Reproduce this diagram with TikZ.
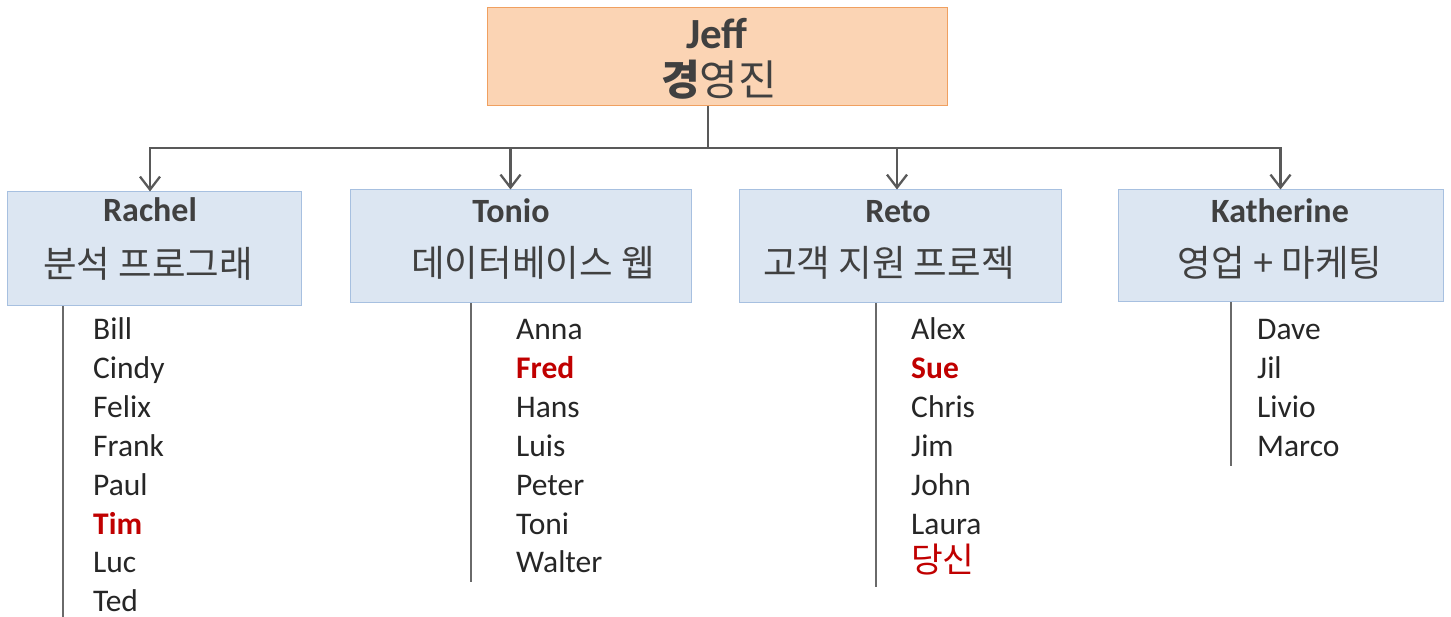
\documentclass[tikz,border=0pt]{standalone}
\usepackage{fontspec}
\setmainfont{Carlito}
\newfontfamily\kr{Noto Sans CJK KR}
\usetikzlibrary{arrows.meta}
\definecolor{peach}{HTML}{FBD4B4}
\definecolor{peachline}{HTML}{F0A060}
\definecolor{paleblue}{HTML}{DCE6F2}
\definecolor{blueline}{HTML}{A7C0E0}
\definecolor{linkgray}{HTML}{595959}
\definecolor{titlegray}{HTML}{404040}
\definecolor{namegray}{HTML}{262626}
\definecolor{hotred}{HTML}{C00000}
\tikzset{
  boss/.style={draw=peachline, fill=peach, line width=1pt, inner sep=0pt},
  mgr/.style={draw=blueline, fill=paleblue, line width=1pt, inner sep=0pt},
  mgrtitle/.style={anchor=base, inner sep=0pt, text=titlegray, font=\fontsize{34}{40}\selectfont\bfseries},
  mgrsub/.style={anchor=base, inner sep=0pt, text=titlegray, font=\kr\fontsize{36.5}{42}\selectfont},
  member/.style={anchor=base west, inner sep=0pt, text=namegray, font=\fontsize{31.5}{38}\selectfont},
  redname/.style={member, text=hotred, font=\fontsize{31.5}{38}\selectfont\bfseries},
  redkr/.style={member, text=hotred, font=\kr\fontsize{34.5}{40}\selectfont},
  link/.style={draw=linkgray, line width=2.3pt},
  lane/.style={draw=linkgray!90, line width=2pt}
}
\begin{document}
\begin{tikzpicture}[x=1pt, y=-1pt, >={Straight Barb[length=13pt,width=20pt]}]
  \useasboundingbox (0,0) rectangle (1451,617);

%Boxes
  \node[boss, minimum width=460, minimum height=98] (jeff) at (717,57) {};
  \node[mgr, minimum width=294, minimum height=114] (rachel) at (154,249) {};
  \node[mgr, minimum width=341, minimum height=113] (tonio) at (520.5,246.5) {};
  \node[mgr, minimum width=322, minimum height=113] (reto) at (900,246.5) {};
  \node[mgr, minimum width=325, minimum height=112] (kath) at (1280.5,246) {};

%Titles
  \node[anchor=base, inner sep=0pt, text=titlegray, font=\fontsize{43}{48}\selectfont\bfseries] (jeffname) at (717,49) {Jeff};
  \node[anchor=base, inner sep=0pt, text=titlegray, font=\kr\fontsize{42}{48}\selectfont] (jeffsub) at (719,96) {{\bfseries 경}영진};
  \node[mgrtitle] (rachelname) at (150,222) {Rachel};
  \node[mgrsub] (rachelsub) at (148,278) {분석 프로그래};
  \node[mgrtitle] (tonioname) at (511,223) {Tonio};
  \node[mgrsub] (toniosub) at (533,277) {데이터베이스 웹};
  \node[mgrtitle] (retoname) at (898,223) {Reto};
  \node[mgrsub] (retosub) at (889,277) {고객 지원 프로젝};
  \node[mgrtitle] (kathname) at (1280,223) {Katherine};
  \node[mgrsub] (kathsub) at (1280,277) {영업 + 마케팅};

%Connectors
  \coordinate (hub) at (708,148);
  \draw[link] (jeff.south -| hub) -- (hub);
  \draw[link,->] (hub) -| ([xshift=-4pt]rachel.north);
  \draw[link,->] (hub) -| ([xshift=-10pt]tonio.north);
  \draw[link,->] (hub) -| ([xshift=-3pt]reto.north);
  \draw[link,->] (hub) -| (kath.north);

%Lanes
  \coordinate (rend) at (63,617);
  \coordinate (tend) at (471,582);
  \coordinate (eend) at (876,587);
  \coordinate (kend) at (1231,466);
  \draw[lane] (rachel.south -| rend) -- (rend);
  \draw[lane] (tonio.south -| tend) -- (tend);
  \draw[lane] (reto.south -| eend) -- (eend);
  \draw[lane] (kath.south -| kend) -- (kend);

%Names
  \foreach \nm/\st [count=\i] in {Bill/member, Cindy/member, Felix/member, Frank/member, Paul/member, Tim/redname, Luc/member, Ted/member}
    \node[\st] (r\i) at (93,{340+38.8*(\i-1)}) {\nm};
  \foreach \nm/\st [count=\i] in {Anna/member, Fred/redname, Hans/member, Luis/member, Peter/member, Toni/member, Walter/member}
    \node[\st] (t\i) at (516,{340+38.8*(\i-1)}) {\nm};
  \foreach \nm/\st [count=\i] in {Alex/member, Sue/redname, Chris/member, Jim/member, John/member, Laura/member, 당신/redkr}
    \node[\st] (e\i) at (911,{340+38.8*(\i-1)}) {\nm};
  \foreach \nm/\st [count=\i] in {Dave/member, Jil/member, Livio/member, Marco/member}
    \node[\st] (k\i) at (1257,{340+38.8*(\i-1)}) {\nm};

\end{tikzpicture}
\end{document}
